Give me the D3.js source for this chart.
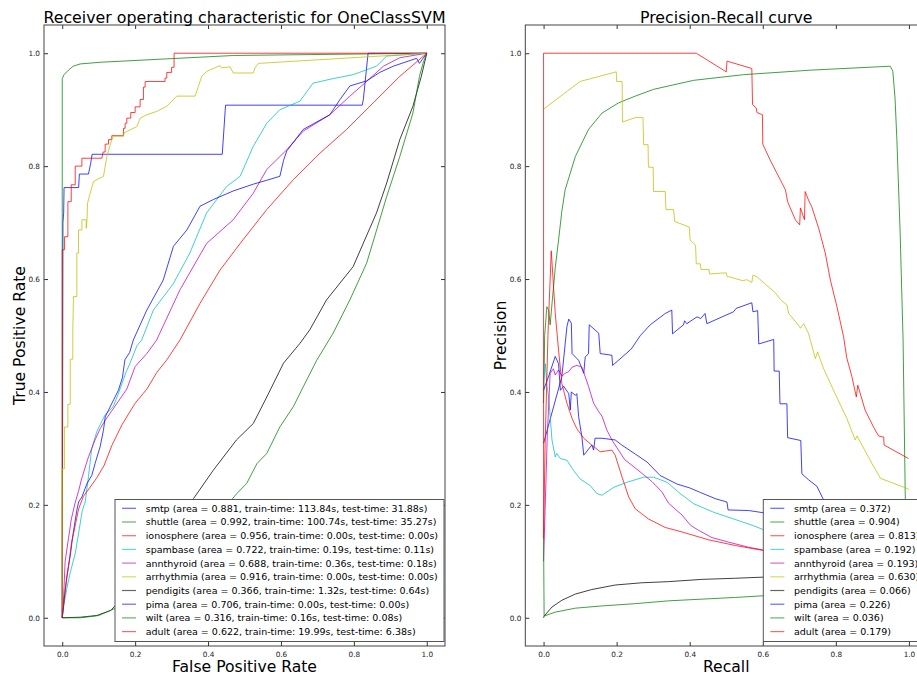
<!DOCTYPE html>
<html><head><meta charset="utf-8">
<script src="https://cdn.jsdelivr.net/npm/d3@7/dist/d3.min.js"></script>
<style>
html,body{margin:0;padding:0;background:#fff;}
text{font-family:"DejaVu Sans",sans-serif;}
</style></head>
<body><svg id="chart" width="917" height="677"></svg>
<script>
// ---------- data ----------
const datasets = ["smtp","shuttle","ionosphere","spambase","annthyroid","arrhythmia","pendigits","pima","wilt","adult"];
const rocArea = ["0.881","0.992","0.956","0.722","0.688","0.916","0.366","0.706","0.316","0.622"];
const trainTime = ["113.84","100.74","0.00","0.19","0.36","0.00","1.32","0.00","0.16","19.99"];
const testTime = ["31.88","35.27","0.00","0.11","0.18","0.00","0.64","0.00","0.08","6.38"];
const prArea = ["0.372","0.904","0.813","0.192","0.193","0.630","0.066","0.226","0.036","0.179"];
const colors = ["#0000ff","#008000","#ff0000","#00bfbf","#bf00bf","#bfbf00","#000000","#0000ff","#008000","#ff0000"];
const ticks = [0,0.2,0.4,0.6,0.8,1.0];
const tickLabels = ["0.0","0.2","0.4","0.6","0.8","1.0"];

// ROC curves [FPR, TPR]
const rocSmtp = [[0,0],[0.002,0.70],[0.004,0.717],[0.005,0.762],[0.045,0.762],[0.047,0.786],[0.072,0.786],[0.078,0.805],[0.082,0.821],[0.439,0.821],[0.448,0.908],[0.823,0.908],[0.826,0.918],[0.839,1.0],[1,1]];
const rocShuttle = [[0,0],[0,0.955],[0.005,0.962],[0.017,0.97],[0.03,0.977],[0.049,0.981],[0.104,0.984],[0.287,0.99],[0.47,0.996],[1,1]];
const rocIonosphere = [[0,0],[0,0.652],[0.0064,0.652],[0.0064,0.675],[0.0155,0.675],[0.0155,0.737],[0.0247,0.737],[0.0247,0.767],[0.0356,0.767],[0.0356,0.8],[0.0539,0.8],[0.0539,0.814],[0.1087,0.814],[0.112,0.825],[0.1178,0.825],[0.1178,0.839],[0.1269,0.839],[0.1269,0.847],[0.136,0.847],[0.136,0.854],[0.168,0.854],[0.168,0.867],[0.1726,0.867],[0.1726,0.876],[0.1772,0.876],[0.1772,0.885],[0.188,0.885],[0.188,0.895],[0.2,0.895],[0.2,0.905],[0.2137,0.905],[0.2137,0.918],[0.2228,0.918],[0.2228,0.94],[0.2274,0.94],[0.2274,0.95],[0.282,0.95],[0.282,0.956],[0.2867,0.956],[0.2867,0.966],[0.3,0.966],[0.3,0.975],[0.3068,0.975],[0.3068,1.0],[1,1]];
const rocSpambase = [[0,0],[0.004,0.02],[0.012,0.05],[0.022,0.08],[0.036,0.115],[0.045,0.15],[0.055,0.19],[0.063,0.205],[0.072,0.25],[0.081,0.3],[0.095,0.33],[0.118,0.36],[0.14,0.374],[0.154,0.397],[0.175,0.435],[0.186,0.451],[0.205,0.482],[0.218,0.492],[0.25,0.545],[0.305,0.592],[0.35,0.646],[0.396,0.717],[0.451,0.764],[0.488,0.782],[0.524,0.835],[0.561,0.876],[0.597,0.9],[0.652,0.915],[0.688,0.947],[0.743,0.955],[0.798,0.962],[0.862,0.977],[0.89,0.995],[1,1]];
const rocAnnthyroid = [[0,0],[0.004,0.04],[0.008,0.1],[0.017,0.14],[0.025,0.175],[0.036,0.205],[0.045,0.225],[0.054,0.248],[0.072,0.285],[0.09,0.315],[0.104,0.335],[0.118,0.35],[0.145,0.375],[0.177,0.405],[0.2,0.445],[0.232,0.468],[0.259,0.492],[0.323,0.581],[0.396,0.663],[0.469,0.705],[0.524,0.752],[0.561,0.794],[0.616,0.829],[0.661,0.862],[0.734,0.891],[0.789,0.924],[0.835,0.95],[0.881,0.977],[0.926,0.992],[1,1]];
const rocArrhythmia = [[0,0],[0,0.264],[0.006,0.264],[0.006,0.338],[0.0155,0.338],[0.0155,0.378],[0.022,0.378],[0.022,0.458],[0.029,0.458],[0.029,0.51],[0.031,0.569],[0.04,0.569],[0.04,0.646],[0.0447,0.646],[0.0447,0.687],[0.054,0.687],[0.054,0.705],[0.0658,0.705],[0.0658,0.69],[0.068,0.705],[0.0694,0.734],[0.0767,0.752],[0.0858,0.773],[0.1132,0.782],[0.1224,0.817],[0.136,0.847],[0.1406,0.853],[0.168,0.853],[0.17,0.859],[0.2046,0.87],[0.2137,0.885],[0.232,0.891],[0.2594,0.897],[0.2867,0.906],[0.3141,0.924],[0.3644,0.924],[0.3735,0.941],[0.3826,0.959],[0.3963,0.968],[0.4329,0.978],[0.437,0.974],[0.4603,0.976],[0.4694,0.965],[0.5242,0.965],[0.5288,0.974],[0.5379,0.982],[0.8986,0.996],[1,1]];
const rocPendigits = [[0,0],[0.05,0.001],[0.095,0.004],[0.133,0.013],[0.146,0.022],[0.2,0.06],[0.26,0.11],[0.31,0.165],[0.36,0.211],[0.414,0.261],[0.478,0.315],[0.524,0.344],[0.561,0.391],[0.607,0.451],[0.652,0.486],[0.679,0.51],[0.725,0.563],[0.798,0.622],[0.862,0.717],[0.89,0.77],[0.926,0.847],[0.962,0.906],[0.985,0.959],[1,1]];
const rocPima = [[0,0],[0.005,0.03],[0.013,0.075],[0.022,0.11],[0.03,0.15],[0.04,0.19],[0.045,0.205],[0.054,0.214],[0.068,0.238],[0.081,0.252],[0.09,0.273],[0.104,0.303],[0.113,0.332],[0.118,0.356],[0.127,0.368],[0.141,0.386],[0.154,0.403],[0.165,0.425],[0.172,0.457],[0.185,0.47],[0.195,0.492],[0.232,0.545],[0.277,0.598],[0.305,0.658],[0.342,0.687],[0.378,0.729],[0.415,0.741],[0.469,0.756],[0.524,0.768],[0.561,0.775],[0.597,0.782],[0.607,0.81],[0.616,0.827],[0.661,0.865],[0.734,0.891],[0.762,0.918],[0.789,0.942],[0.835,0.951],[0.871,0.966],[0.908,0.977],[0.972,0.991],[0.98,0.982],[1,1]];
const rocWilt = [[0,0],[0.05,0.0],[0.1,0.004],[0.15,0.018],[0.2,0.04],[0.3,0.1],[0.4,0.16],[0.479,0.22],[0.506,0.238],[0.534,0.273],[0.561,0.291],[0.597,0.338],[0.634,0.374],[0.661,0.409],[0.698,0.456],[0.743,0.504],[0.789,0.563],[0.835,0.628],[0.89,0.746],[0.926,0.817],[0.962,0.894],[0.98,0.959],[0.99,0.983],[1,1]];
const rocAdult = [[0,0],[0.008,0.05],[0.017,0.09],[0.026,0.135],[0.031,0.149],[0.045,0.193],[0.058,0.215],[0.075,0.23],[0.095,0.248],[0.115,0.27],[0.136,0.305],[0.164,0.342],[0.2,0.38],[0.232,0.405],[0.26,0.435],[0.287,0.457],[0.323,0.492],[0.378,0.557],[0.433,0.616],[0.488,0.663],[0.561,0.723],[0.634,0.776],[0.707,0.823],[0.78,0.865],[0.853,0.912],[0.926,0.959],[1,1]];

// PR curves [recall, precision]
const prSmtp = [[0,0.309],[0.05,0.427],[0.064,0.516],[0.069,0.529],[0.076,0.522],[0.078,0.468],[0.096,0.456],[0.11,0.433],[0.114,0.462],[0.123,0.468],[0.125,0.519],[0.151,0.504],[0.155,0.468],[0.187,0.465],[0.189,0.447],[0.24,0.476],[0.265,0.5],[0.292,0.519],[0.333,0.539],[0.351,0.545],[0.353,0.503],[0.383,0.519],[0.386,0.526],[0.392,0.521],[0.42,0.533],[0.43,0.53],[0.442,0.539],[0.447,0.521],[0.52,0.542],[0.527,0.548],[0.57,0.558],[0.573,0.542],[0.586,0.544],[0.589,0.485],[0.63,0.493],[0.631,0.437],[0.645,0.437],[0.647,0.379],[0.666,0.379],[0.668,0.319],[0.704,0.314],[0.707,0.255],[0.726,0.244],[0.748,0.233],[0.767,0.208],[0.8,0.15],[0.9,0.08],[1,0.03]];
const prShuttle = [[0,0.38],[0.003,0.5],[0.009,0.551],[0.014,0.545],[0.018,0.519],[0.025,0.57],[0.032,0.62],[0.041,0.669],[0.05,0.72],[0.059,0.758],[0.087,0.817],[0.123,0.865],[0.16,0.894],[0.205,0.912],[0.251,0.924],[0.301,0.936],[0.411,0.952],[0.547,0.962],[0.73,0.97],[0.949,0.977],[0.956,0.968],[0.962,0.92],[0.967,0.847],[0.976,0.681],[0.984,0.492],[0.99,0.214],[1,0.07]];
const prIonosphere = [[0,1],[0.418,1],[0.5,0.967],[0.502,0.986],[0.57,0.973],[0.572,0.909],[0.582,0.903],[0.584,0.895],[0.599,0.891],[0.6,0.839],[0.62,0.811],[0.662,0.758],[0.668,0.737],[0.689,0.705],[0.701,0.696],[0.703,0.726],[0.714,0.705],[0.716,0.755],[0.725,0.74],[0.734,0.728],[0.753,0.69],[0.771,0.646],[0.785,0.598],[0.803,0.551],[0.821,0.498],[0.83,0.46],[0.844,0.427],[0.856,0.391],[0.86,0.412],[0.88,0.368],[0.903,0.338],[0.917,0.322],[0.931,0.32],[0.932,0.306],[0.999,0.282]];
const prSpambase = [[0,0.42],[0.005,0.45],[0.009,0.41],[0.014,0.391],[0.023,0.315],[0.032,0.285],[0.036,0.291],[0.046,0.282],[0.064,0.279],[0.082,0.261],[0.1,0.246],[0.128,0.234],[0.146,0.22],[0.16,0.217],[0.192,0.231],[0.228,0.24],[0.274,0.249],[0.301,0.249],[0.338,0.24],[0.374,0.22],[0.411,0.202],[0.465,0.187],[0.52,0.175],[0.575,0.163],[0.602,0.156],[0.8,0.13],[1,0.12]];
const prAnnthyroid = [[0,0.1],[0.01,0.32],[0.018,0.433],[0.027,0.441],[0.032,0.43],[0.041,0.439],[0.05,0.428],[0.059,0.433],[0.069,0.436],[0.078,0.444],[0.091,0.447],[0.105,0.444],[0.114,0.427],[0.123,0.41],[0.137,0.38],[0.151,0.365],[0.16,0.357],[0.173,0.333],[0.187,0.315],[0.205,0.297],[0.222,0.28],[0.242,0.27],[0.269,0.256],[0.297,0.241],[0.324,0.223],[0.342,0.203],[0.379,0.182],[0.402,0.164],[0.424,0.155],[0.461,0.142],[0.506,0.134],[0.561,0.125],[0.602,0.12],[0.8,0.1],[1,0.08]];
const prArrhythmia = [[0,0.901],[0.1,0.95],[0.199,0.967],[0.2,0.95],[0.215,0.95],[0.216,0.878],[0.251,0.886],[0.272,0.886],[0.274,0.838],[0.286,0.838],[0.287,0.798],[0.3,0.798],[0.301,0.755],[0.333,0.755],[0.335,0.723],[0.356,0.723],[0.359,0.702],[0.399,0.692],[0.401,0.669],[0.416,0.66],[0.418,0.627],[0.429,0.627],[0.431,0.617],[0.453,0.617],[0.454,0.609],[0.5,0.611],[0.502,0.605],[0.546,0.597],[0.556,0.599],[0.57,0.594],[0.573,0.607],[0.584,0.604],[0.634,0.576],[0.648,0.564],[0.666,0.554],[0.671,0.539],[0.698,0.518],[0.703,0.513],[0.712,0.521],[0.725,0.504],[0.744,0.459],[0.75,0.471],[0.766,0.442],[0.798,0.397],[0.83,0.353],[0.853,0.315],[0.858,0.322],[0.899,0.273],[0.922,0.247],[0.995,0.229],[1,0.227]];
const prPendigits = [[0,0],[0.0015,0.003],[0.023,0.019],[0.05,0.031],[0.087,0.042],[0.132,0.05],[0.196,0.058],[0.269,0.062],[0.342,0.064],[0.433,0.068],[0.525,0.07],[0.602,0.072],[1,0.08]];
const prPima = [[0,0.403],[0.015,0.43],[0.032,0.463],[0.041,0.45],[0.046,0.403],[0.055,0.41],[0.069,0.397],[0.073,0.368],[0.076,0.4],[0.087,0.394],[0.091,0.397],[0.096,0.356],[0.105,0.32],[0.11,0.288],[0.132,0.306],[0.137,0.297],[0.141,0.318],[0.16,0.318],[0.196,0.315],[0.214,0.306],[0.251,0.29],[0.283,0.276],[0.319,0.252],[0.365,0.237],[0.4,0.23],[0.429,0.222],[0.47,0.211],[0.502,0.205],[0.505,0.191],[0.561,0.19],[0.602,0.186],[0.8,0.18],[1,0.18]];
const prWilt = [[0,0.14],[0.0015,0.003],[0.032,0.01],[0.087,0.017],[0.16,0.021],[0.251,0.025],[0.342,0.03],[0.433,0.033],[0.525,0.036],[0.602,0.039],[1,0.05]];
const prAdult = [[0,1],[0,0.14],[0.004,0.3],[0.012,0.5],[0.021,0.65],[0.032,0.539],[0.041,0.474],[0.05,0.415],[0.064,0.38],[0.078,0.353],[0.091,0.335],[0.11,0.318],[0.132,0.306],[0.155,0.294],[0.187,0.297],[0.196,0.288],[0.215,0.249],[0.233,0.214],[0.251,0.193],[0.287,0.175],[0.333,0.16],[0.379,0.152],[0.452,0.138],[0.525,0.128],[0.602,0.119],[0.8,0.1],[1,0.1]];

const rocCurves = [rocSmtp,rocShuttle,rocIonosphere,rocSpambase,rocAnnthyroid,rocArrhythmia,rocPendigits,rocPima,rocWilt,rocAdult];
const prCurves = [prSmtp,prShuttle,prIonosphere,prSpambase,prAnnthyroid,prArrhythmia,prPendigits,prPima,prWilt,prAdult];

// ---------- drawing ----------
const svg = d3.select("#chart");
const dom = [-0.05, 1.05];
const y = d3.scaleLinear().domain(dom).range([646, 25]);

function panel(id, x0, x1, curves, legendLabels, legendX, title, xlabel, ylabel, ylabelX) {
  const x = d3.scaleLinear().domain(dom).range([x0, x1]);
  const g = svg.append("g");
  g.append("clipPath").attr("id", id).append("rect")
    .attr("x", x0).attr("y", 25).attr("width", x1 - x0).attr("height", 621);
  const line = d3.line().x(d => x(d[0])).y(d => y(d[1]));
  const lines = g.append("g").attr("clip-path", `url(#${id})`);
  curves.forEach((c, i) => {
    lines.append("path").datum(c).attr("d", line)
      .attr("fill", "none").attr("stroke", colors[i]).attr("stroke-width", 1)
      .attr("stroke-opacity", 0.75).attr("stroke-linejoin", "round");
  });
  // axes (inward ticks)
  const fmt = (d, i) => tickLabels[i];
  const ax = g.append("g").attr("transform", `translate(0,646)`)
    .call(d3.axisBottom(x).tickValues(ticks).tickFormat(fmt).tickSizeInner(-4).tickSizeOuter(0).tickPadding(6));
  const axT = g.append("g").attr("transform", `translate(0,25)`)
    .call(d3.axisTop(x).tickValues(ticks).tickFormat("").tickSizeInner(-4).tickSizeOuter(0));
  const ay = g.append("g").attr("transform", `translate(${x0},0)`)
    .call(d3.axisLeft(y).tickValues(ticks).tickFormat(fmt).tickSizeInner(-4).tickSizeOuter(0).tickPadding(4));
  const ayR = g.append("g").attr("transform", `translate(${x1},0)`)
    .call(d3.axisRight(y).tickValues(ticks).tickFormat("").tickSizeInner(-4).tickSizeOuter(0));
  [ax, axT, ay, ayR].forEach(a => {
    a.select(".domain").remove();
    a.selectAll("line").attr("stroke", "#333");
    a.selectAll("text").attr("font-family", "DejaVu Sans").attr("font-size", 7.3).attr("fill", "#222");
  });
  g.append("rect").attr("x", x0).attr("y", 25).attr("width", x1 - x0).attr("height", 621)
    .attr("fill", "none").attr("stroke", "#444").attr("stroke-width", 1);
  // titles
  g.append("text").attr("x", (x0 + x1) / 2).attr("y", 22.5).attr("text-anchor", "middle")
    .attr("font-size", 15.8).attr("fill", "#000").text(title);
  g.append("text").attr("x", (x0 + x1) / 2).attr("y", 672).attr("text-anchor", "middle")
    .attr("font-size", 15.6).attr("fill", "#000").text(xlabel);
  g.append("text").attr("transform", `translate(${ylabelX},335.5) rotate(-90)`).attr("text-anchor", "middle")
    .attr("font-size", 15.6).attr("fill", "#000").text(ylabel);
  // legend
  const lg = g.append("g");
  lg.append("rect").attr("x", legendX).attr("y", 499.5).attr("width", (x1 - 1) - legendX).attr("height", 142)
    .attr("fill", "#fff").attr("stroke", "#555").attr("stroke-width", 1);
  legendLabels.forEach((t, i) => {
    const cy = 508.3 + i * 13.7;
    lg.append("line").attr("x1", legendX + 7).attr("x2", legendX + 21).attr("y1", cy).attr("y2", cy)
      .attr("stroke", colors[i]).attr("stroke-opacity", 0.6).attr("stroke-width", 1.2);
    lg.append("text").attr("x", legendX + 30.7).attr("y", cy).attr("dy", "0.36em")
      .attr("font-size", 9.5).attr("fill", "#000").text(t);
  });
}

const rocLabels = datasets.map((d, i) => `${d} (area = ${rocArea[i]}, train-time: ${trainTime[i]}s, test-time: ${testTime[i]}s)`);
const prLabels = datasets.map((d, i) => `${d} (area = ${prArea[i]})`);

panel("clipL", 44, 445, rocCurves, rocLabels, 115, "Receiver operating characteristic for OneClassSVM", "False Positive Rate", "True Positive Rate", 25);
panel("clipR", 525.3, 927.2, prCurves, prLabels, 763.3, "Precision-Recall curve", "Recall", "Precision", 505.5);
</script></body></html>
